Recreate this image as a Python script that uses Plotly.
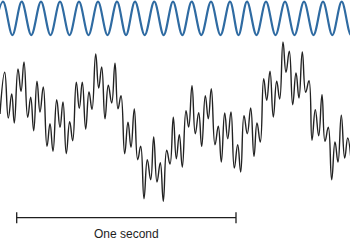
import plotly.graph_objects as go

# Time axis in samples (about 219 samples = one second, see scale bar)
# --- Top reference rhythm: times of peaks and troughs, amplitude (+1 / -1)
wave_t = [-6.4, 3.0, 12.4, 21.7, 31.3, 41.0, 50.5, 60.0, 69.5, 79.0, 88.5, 98.0,
          107.5, 117.0, 126.0, 135.0, 144.7, 154.3, 163.7, 173.0, 182.3, 191.7,
          201.3, 211.0, 220.5, 230.0, 238.5, 247.0, 256.5, 266.0, 275.5, 285.0,
          294.5, 304.0, 313.5, 323.0, 332.3, 341.7, 351.0, 360.4]
wave_v = [-1, 1, -1, 1, -1, 1, -1, 1, -1, 1, -1, 1,
          -1, 1, -1, 1, -1, 1, -1, 1, -1, 1,
          -1, 1, -1, 1, -1, 1, -1, 1, -1, 1,
          -1, 1, -1, 1, -1, 1, -1, 1]

# --- Bottom recorded signal: local extrema (time, amplitude)
sig_t = [0.0, 4.7, 8.3, 11.7, 14.3, 18.0, 21.0, 24.0, 27.7, 30.7, 33.7, 37.0,
         40.0, 43.3, 47.0, 50.0, 53.0, 56.7, 60.0, 63.0, 66.3, 69.7, 72.7, 76.3,
         79.3, 82.3, 85.7, 89.0, 92.0, 95.7, 98.7, 101.7, 105.0, 108.3, 111.7, 115.0,
         118.0, 121.0, 124.7, 128.0, 131.0, 134.3, 137.7, 140.7, 144.0, 147.3, 150.7, 153.7,
         157.0, 160.3, 163.3, 166.7, 170.0, 173.3, 176.3, 179.3, 182.3, 186.0, 188.7, 192.0,
         195.3, 198.7, 201.7, 205.3, 208.3, 211.3, 215.0, 218.3, 221.3, 224.7, 227.7, 231.0,
         234.3, 237.7, 240.7, 244.0, 247.3, 250.7, 254.0, 257.0, 260.3, 263.7, 266.7, 270.0,
         273.3, 276.7, 279.7, 283.0, 286.0, 289.3, 292.7, 296.0, 299.0, 302.3, 305.7, 309.0,
         312.0, 315.3, 318.7, 322.0, 325.0, 328.3, 331.7, 335.0, 338.0, 341.3, 344.7, 347.7,
         351.0]
sig_v = [6, 47.7, 2, 26, -3, 51, 28.7, 58, 2.7, 22.7, -10.7, 38.7,
         8, 33, -26.3, -3.7, -31.3, 20.3, -7.3, 18, -33.7, -1.7, -20.7, 37.7,
         11.7, 37.7, -9, 28, 10.7, 66, 32, 53, 1.3, 34.7, 17, 56.7,
         11.3, 24.3, -33.7, -2.3, -27.3, 11, -39.7, -26.3, -78.7, -39.7, -59.7, -17,
         -62, -42.7, -81.3, -30.3, -44, 2.7, -38.7, -14.7, -47, 9.3, -7, 34.3,
         -13.7, 7.3, -26.3, 24.3, 1.3, 31.3, -24.7, -6.3, -42, 7, -18.7, 8,
         -48, -24.7, -52, 4.3, -13.7, 12, -36.3, -3, -22, 41.3, 19.7, 48.7,
         3, 38.7, 21, 78, 47.7, 68.7, 15.3, 47, 22, 68, 27.7, 39.3,
         -20.3, 10.3, -15.7, 25.3, -21.3, -7.3, -59.7, -22, -42, 4.7, -38, -18,
         -40]

# --- Scale bar: one second
bar_start = 16.7
bar_end = 236.0
bar_level = -97.7
tick_half = 5.5
bar_label = "One second"
label_level = -115

fig = go.Figure()

fig.add_trace(go.Scatter(
    x=wave_t, y=wave_v, mode="lines", yaxis="y2",
    line=dict(color="#2f6ba2", width=2.2, shape="spline", smoothing=1.0),
    hoverinfo="skip", showlegend=False))

fig.add_trace(go.Scatter(
    x=sig_t, y=sig_v, mode="lines",
    line=dict(color="#222222", width=1.4, shape="spline", smoothing=1.3),
    hoverinfo="skip", showlegend=False))

# scale bar line with end ticks
fig.add_trace(go.Scatter(
    x=[bar_start, bar_start, None, bar_start, bar_end, None, bar_end, bar_end],
    y=[bar_level - tick_half, bar_level + tick_half, None, bar_level, bar_level, None,
       bar_level - tick_half, bar_level + tick_half],
    mode="lines", line=dict(color="#1e1e1e", width=1.3),
    hoverinfo="skip", showlegend=False))

fig.add_trace(go.Scatter(
    x=[(bar_start + bar_end) / 2], y=[label_level], mode="text",
    text=[bar_label], textposition="middle center",
    textfont=dict(family="Liberation Sans, Arial, sans-serif", size=12, color="#1e1e1e"),
    hoverinfo="skip", showlegend=False))

fig.update_layout(
    width=350, height=242,
    margin=dict(l=0, r=0, t=0, b=0),
    paper_bgcolor="white", plot_bgcolor="white",
    xaxis=dict(range=[0, 350], visible=False),
    yaxis=dict(range=[-122, 120], visible=False),
    yaxis2=dict(range=[-13.42, 1.102], visible=False, overlaying="y"),
)

fig.write_html("out.html")
